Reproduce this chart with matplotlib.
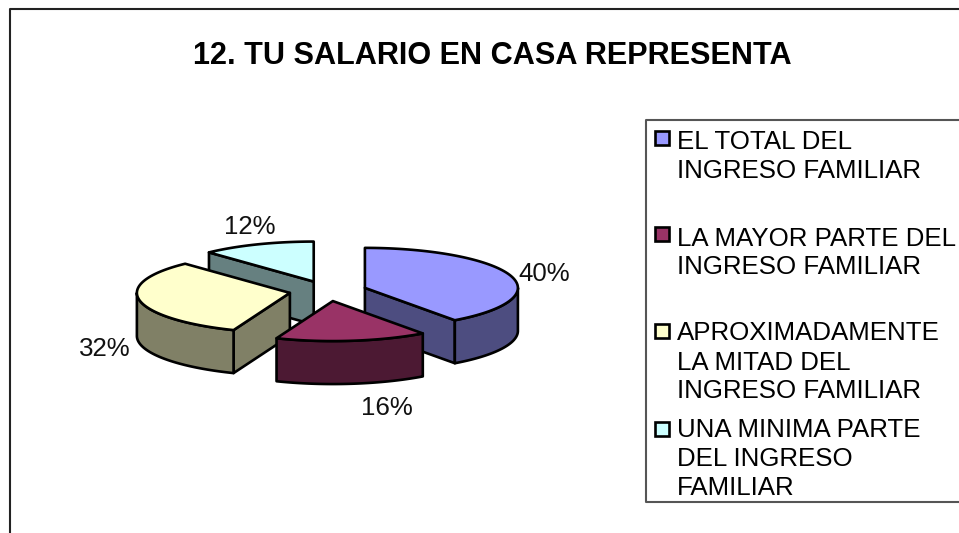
import numpy as np
import matplotlib
matplotlib.use('Agg')
import matplotlib.pyplot as plt
from matplotlib.patches import Polygon, Rectangle

plt.rcParams['font.family'] = ['Liberation Sans', 'DejaVu Sans']

title = '12. TU SALARIO EN CASA REPRESENTA'
values = [40, 16, 32, 12]
pct_labels = ['40%', '16%', '32%', '12%']
legend_labels = ['EL TOTAL DEL\nINGRESO FAMILIAR',
                 'LA MAYOR PARTE DEL\nINGRESO FAMILIAR',
                 'APROXIMADAMENTE\nLA MITAD DEL\nINGRESO FAMILIAR',
                 'UNA MINIMA PARTE\nDEL INGRESO\nFAMILIAR']
top_colors = ['#9999FF', '#993366', '#FFFFCC', '#CCFFFF']
side_colors = ['#4D4D80', '#4C1933', '#808066', '#668080']

# pie geometry, in pixels of the figure
cx, cy = 328, 291
rx, ry = 153, 40
depth = 43
explode = 38.8
lw = 1.9


def point(x0, y0, deg):
    a = np.radians(deg)
    return x0 + rx*np.sin(a), y0 - ry*np.cos(a)


def arc(x0, y0, a1, a2):
    angles = np.linspace(a1, a2, 80)
    xs, ys = point(x0, y0, angles)
    return np.column_stack([xs, ys])


fig = plt.figure(figsize=(9.59, 5.33), dpi=100)
ax = fig.add_axes([0, 0, 1, 1])
ax.set_xlim(0, 959)
ax.set_ylim(533, 0)
ax.axis('off')

# chart frame, right and bottom sides are cut off in the original
ax.plot([9.5, 9.5, 959], [533, 9, 9], color='#222222', lw=1.5)

edges = np.cumsum([0] + values) / sum(values) * 360
slices = []
for i in range(len(values)):
    mid = (edges[i] + edges[i+1]) / 2
    a = np.radians(mid)
    x0 = cx + explode*np.sin(a)
    y0 = cy - explode*ry/rx*np.cos(a)
    slices.append((i, edges[i], edges[i+1], x0, y0))

# back to front: the slice whose apex is lowest on screen goes last
for i, a1, a2, x0, y0 in sorted(slices, key=lambda s: s[4]):
    side = dict(facecolor=side_colors[i], edgecolor='black', lw=lw, joinstyle='round')
    # cut faces, only those turned towards the viewer
    if 180 < a1 < 360:
        px, py = point(x0, y0, a1)
        ax.add_patch(Polygon([(x0, y0), (px, py), (px, py+depth), (x0, y0+depth)], **side))
    if 0 < a2 < 180:
        px, py = point(x0, y0, a2)
        ax.add_patch(Polygon([(x0, y0), (px, py), (px, py+depth), (x0, y0+depth)], **side))
    # outer rim, front half only
    r1, r2 = max(a1, 90), min(a2, 270)
    if r1 < r2:
        rim = arc(x0, y0, r1, r2)
        ax.add_patch(Polygon(np.vstack([rim, rim[::-1] + [0, depth]]), **side))
    top = np.vstack([[(x0, y0)], arc(x0, y0, a1, a2)])
    ax.add_patch(Polygon(top, facecolor=top_colors[i], edgecolor='black', lw=lw, joinstyle='round'))

ax.text(492, 63.5, title, fontsize=22.1, fontweight='bold', ha='center', va='baseline', color='black')

pct_pos = [(544, 281), (387, 415), (105, 356), (250, 234)]
for label, (x, y) in zip(pct_labels, pct_pos):
    ax.text(x, y, label, fontsize=18.6, ha='center', va='baseline', color='#111111')

# legend
ax.plot([959, 646, 646, 959], [120, 120, 502, 502], color='#555555', lw=1.5)
legend_y = [[149, 178], [246, 274], [340, 370, 398], [437, 466, 495]]
swatch_y = [131, 227, 324, 422]
for i, label in enumerate(legend_labels):
    ax.add_patch(Rectangle((654.5, swatch_y[i]), 14, 14, facecolor=top_colors[i],
                           edgecolor='black', lw=1.9))
    for line, y in zip(label.split('\n'), legend_y[i]):
        ax.text(677, y, line, fontsize=18.6, ha='left', va='baseline', color='black')

fig.savefig('out.png', dpi=100)
